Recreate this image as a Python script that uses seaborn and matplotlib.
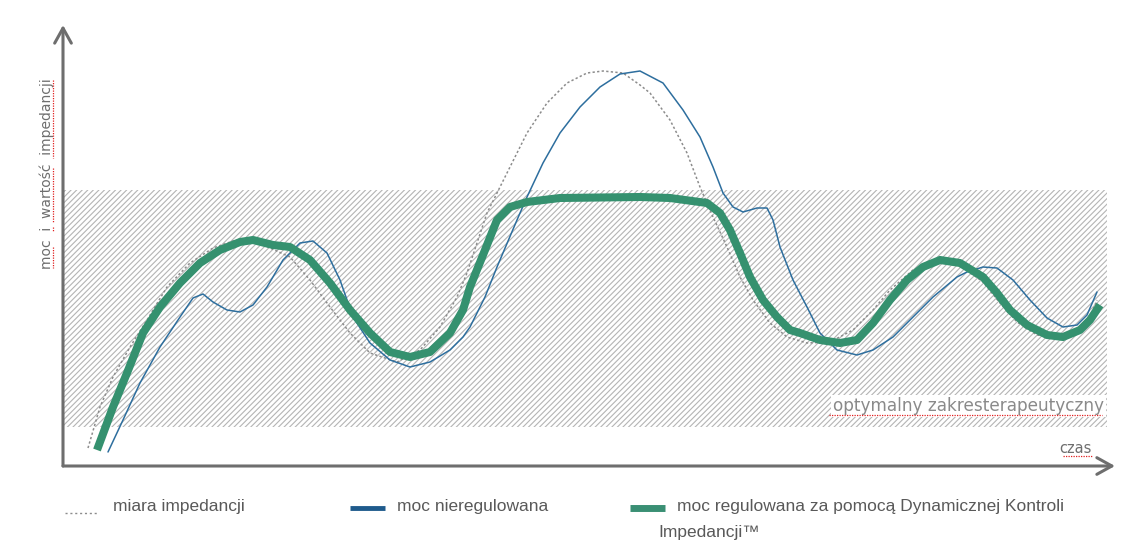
import numpy as np
import pandas as pd
import seaborn as sns
import matplotlib.pyplot as plt
from matplotlib.lines import Line2D

# wartości (czas, poziom)
czas_reg = [34, 50, 64, 80, 97, 117, 137, 157, 177, 190, 210, 227, 247, 267, 287, 307, 327, 347,
            367, 387, 400, 407, 420, 434, 447, 464, 497, 577, 607, 644, 657, 667, 677, 687, 700,
            714, 727, 737, 757, 777, 794, 810, 827, 844, 860, 877, 897, 920, 934, 947, 964, 984,
            1000, 1017, 1027, 1037]
moc_reg = [16, 59, 93, 133, 159, 183, 203, 216, 224, 226, 221, 219, 206, 183, 156, 133, 114, 109,
           114, 133, 156, 179, 211, 246, 259, 264, 268, 269, 268, 263, 253, 236, 213, 189, 166,
           149, 136, 133, 126, 123, 126, 143, 166, 186, 199, 206, 203, 189, 173, 156, 141, 131,
           129, 136, 146, 161]

czas_nreg = [45, 60, 77, 97, 117, 130, 140, 150, 164, 177, 190, 204, 220, 237, 250, 264, 277, 290,
             307, 327, 347, 367, 387, 400, 407, 422, 434, 454, 464, 480, 497, 517, 537, 557, 577,
             600, 620, 637, 650, 660, 670, 680, 694, 704, 710, 717, 730, 744, 757, 774, 794, 810,
             830, 850, 870, 894, 904, 920, 934, 950, 967, 984, 1000, 1014, 1024, 1034]
moc_nreg = [14, 46, 83, 119, 149, 168, 172, 164, 156, 154, 161, 179, 206, 223, 225, 213, 186, 149,
            123, 106, 99, 104, 116, 129, 139, 169, 199, 246, 269, 303, 333, 359, 379, 392, 395,
            383, 356, 329, 299, 273, 259, 254, 258, 258, 246, 219, 186, 159, 133, 116, 111, 116,
            129, 149, 169, 189, 194, 199, 198, 186, 166, 148, 139, 141, 151, 174]

czas_imp = [25, 37, 50, 67, 84, 104, 127, 150, 170, 192, 207, 227, 247, 267, 287, 307, 334, 357,
            377, 394, 404, 414, 424, 434, 447, 464, 484, 504, 524, 540, 560, 577, 587, 607, 624,
            637, 650, 664, 677, 690, 707, 724, 744, 767, 790, 810, 827, 850, 874, 897, 920, 937,
            954, 974, 994, 1010, 1027, 1034]
impedancja = [18, 59, 89, 119, 146, 179, 203, 218, 225, 226, 218, 209, 186, 159, 133, 113, 104,
              116, 139, 169, 193, 223, 253, 273, 299, 333, 363, 383, 393, 395, 393, 381, 373, 346,
              313, 279, 249, 219, 189, 166, 143, 129, 123, 124, 136, 156, 176, 196, 204, 201, 184,
              163, 144, 131, 128, 133, 149, 166]

zakres_od, zakres_do = 39, 276
zakres_koniec = 1044

sns.set_theme(style='white')
plt.rcParams['font.family'] = ['DejaVu Sans']
plt.rcParams['hatch.linewidth'] = 0.8

szary = '#6e6e6e'
zielony = '#35916f'
niebieski = '#2d6e9e'
czerwony = '#e02020'

fig = plt.figure(figsize=(11.48, 5.54), dpi=100)
ax = fig.add_axes([63 / 1148, 88 / 554, 1052 / 1148, 441 / 554])

ax.axhspan(zakres_od, zakres_do, xmin=0, xmax=zakres_koniec / 1052, facecolor='none',
           edgecolor='#b4b4b4', hatch='//////', linewidth=0)

df_imp = pd.DataFrame({'czas': czas_imp, 'wartosc': impedancja})
df_nreg = pd.DataFrame({'czas': czas_nreg, 'wartosc': moc_nreg})
df_reg = pd.DataFrame({'czas': czas_reg, 'wartosc': moc_reg})

sns.lineplot(data=df_imp, x='czas', y='wartosc', ax=ax, color='#8c8c8c',
             linewidth=1.1, linestyle=(0, (1.5, 1.5)))
sns.lineplot(data=df_nreg, x='czas', y='wartosc', ax=ax, color=niebieski, linewidth=1.1,
             solid_joinstyle='round')
sns.lineplot(data=df_reg, x='czas', y='wartosc', ax=ax, color=zielony, linewidth=5.8,
             solid_capstyle='butt', solid_joinstyle='round')

ax.set_xlim(0, 1052)
ax.set_ylim(0, 441)
ax.set_xticks([])
ax.set_yticks([])
ax.set_xlabel('')
ax.set_ylabel('')
for s in ax.spines.values():
    s.set_visible(False)

# osie ze strzałkami
ax.annotate('', xy=(0, 1), xytext=(0, 0), xycoords='axes fraction',
            arrowprops=dict(arrowstyle='->,head_length=0.9,head_width=0.5', color=szary, lw=2.2,
                            shrinkA=0, shrinkB=0))
ax.annotate('', xy=(1, 0), xytext=(0, 0), xycoords='axes fraction',
            arrowprops=dict(arrowstyle='->,head_length=0.9,head_width=0.5', color=szary, lw=2.2,
                            shrinkA=0, shrinkB=0))

ax.text(1041, 51, 'optymalny zakresterapeutyczny', ha='right', va='bottom', fontsize=12.2,
        color='#8a8a8a', bbox=dict(facecolor='white', edgecolor='none', pad=1.5))
ax.text(1029, 10, 'czas', ha='right', va='bottom', fontsize=10.5, color=szary)
fig.text(47 / 1148, 1 - 174 / 554, 'moc  i  wartość  impedancji', rotation=90, ha='center',
         va='center', fontsize=10, color=szary)

# podkreślenia pisowni
podkr = dict(color=czerwony, lw=0.9, linestyle=(0, (1, 1)))
fig.add_artist(Line2D([829 / 1148, 1102 / 1148], [1 - 415 / 554] * 2, **podkr))
fig.add_artist(Line2D([1063 / 1148, 1093 / 1148], [1 - 456 / 554] * 2, **podkr))
fig.add_artist(Line2D([53 / 1148] * 2, [1 - 80 / 554, 1 - 158 / 554], **podkr))
fig.add_artist(Line2D([53 / 1148] * 2, [1 - 168 / 554, 1 - 222 / 554], **podkr))
fig.add_artist(Line2D([53 / 1148] * 2, [1 - 227 / 554, 1 - 232 / 554], **podkr))
fig.add_artist(Line2D([53 / 1148] * 2, [1 - 247 / 554, 1 - 268 / 554], **podkr))

# legenda
leg_font = dict(fontsize=12.5, color='#595959', family=['Liberation Sans', 'DejaVu Sans'])
fig.add_artist(Line2D([65 / 1148, 97 / 1148], [1 - 513 / 554] * 2, color='#8c8c8c', lw=1,
                      linestyle=(0, (1.5, 2))))
fig.text(113 / 1148, 1 - 507 / 554, 'miara impedancji', va='center', **leg_font)
fig.add_artist(Line2D([350 / 1148, 385 / 1148], [1 - 508 / 554] * 2, color='#1f5b8c', lw=3.5,
                      solid_capstyle='butt'))
fig.text(397 / 1148, 1 - 507 / 554, 'moc nieregulowana', va='center', **leg_font)
fig.add_artist(Line2D([630 / 1148, 665 / 1148], [1 - 508 / 554] * 2, color='#3a8f74', lw=5,
                      solid_capstyle='butt'))
fig.text(677 / 1148, 1 - 507 / 554, 'moc regulowana za pomocą Dynamicznej Kontroli', va='center',
         **leg_font)
fig.text(658 / 1148, 1 - 532 / 554, 'Impedancji™', va='center', **leg_font)

fig.savefig('out.png', dpi=100)
